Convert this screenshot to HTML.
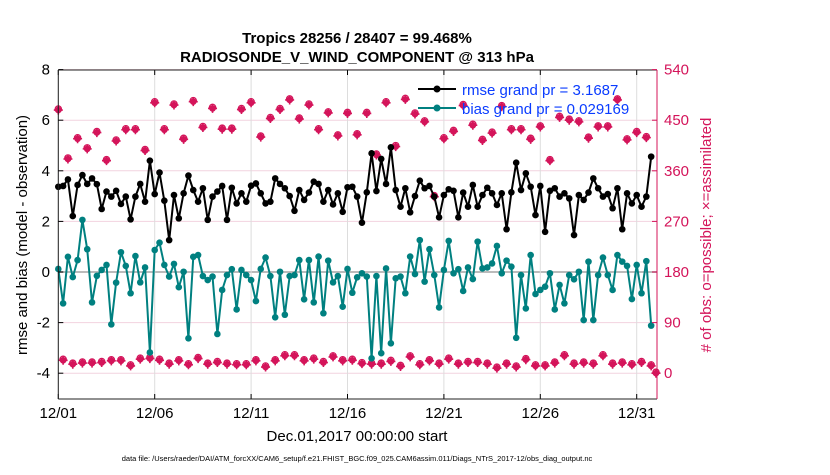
<!DOCTYPE html>
<html><head><meta charset="utf-8"><style>
body{margin:0;background:#fff;}
svg text{font-family:"Liberation Sans",sans-serif;}
</style></head><body>
<svg id="chart" width="830" height="470" xmlns="http://www.w3.org/2000/svg">
<rect width="830" height="470" fill="#fff"/>
<g id="grid"></g>
<g id="series"></g>
<g id="axes"></g>
<text x="357" y="43" text-anchor="middle" font-size="15" font-weight="bold">Tropics 28256 / 28407 = 99.468%</text>
<text x="357" y="62" text-anchor="middle" font-size="15" font-weight="bold">RADIOSONDE_V_WIND_COMPONENT @ 313 hPa</text>
<text transform="translate(27,235) rotate(-90)" text-anchor="middle" font-size="15">rmse and bias (model - observation)</text>
<text transform="translate(711,235) rotate(-90)" text-anchor="middle" font-size="15" fill="#d4145a"># of obs: o=possible; ×=assimilated</text>
<text x="357" y="441" text-anchor="middle" font-size="15">Dec.01,2017 00:00:00 start</text>
<text x="357" y="461" text-anchor="middle" font-size="7.5">data file: /Users/raeder/DAI/ATM_forcXX/CAM6_setup/f.e21.FHIST_BGC.f09_025.CAM6assim.011/Diags_NTrS_2017-12/obs_diag_output.nc</text>
<g>
<line x1="418" y1="89" x2="456" y2="89" stroke="#000" stroke-width="2"/>
<circle cx="437" cy="89" r="3.5" fill="#000"/>
<text x="462" y="95" font-size="15" fill="#0a3cff">rmse grand pr = 3.1687</text>
<line x1="418" y1="108" x2="456" y2="108" stroke="#008080" stroke-width="2"/>
<circle cx="437" cy="108" r="3.5" fill="#008080"/>
<text x="462" y="114" font-size="15" fill="#0a3cff">bias grand pr = 0.029169</text>
</g>
</svg>
<script>
const xTickLabels=["12/01","12/06","12/11","12/16","12/21","12/26","12/31"];
const xTickDays=[0,5,10,15,20,25,30];
const yTicksLeft=[8,6,4,2,0,-2,-4];
const yTicksRight=[540,450,360,270,180,90,0];
const rmse=[3.37,3.40,3.66,2.21,3.44,3.83,3.48,3.70,3.47,2.49,3.18,2.98,3.21,2.69,2.98,2.08,2.98,3.48,2.78,4.40,3.08,3.93,2.82,1.26,3.04,2.12,3.11,3.81,3.24,2.78,3.31,2.06,
2.98,3.18,3.40,2.06,3.33,2.71,3.11,2.78,3.41,3.50,3.11,2.71,2.78,3.70,3.48,3.31,3.00,2.42,3.24,2.85,3.14,3.57,3.48,2.78,3.24,2.67,3.11,2.38,3.35,3.37,2.98,
1.95,3.15,4.69,3.20,4.47,3.48,4.93,3.24,2.58,3.31,2.36,3.00,3.61,3.31,3.40,2.98,2.16,3.04,3.27,3.21,2.16,3.14,2.58,3.44,2.58,3.04,3.33,3.11,2.65,3.11,1.69,
3.15,4.32,3.24,3.90,3.37,2.25,3.40,1.59,3.21,3.31,2.98,3.11,2.91,1.46,3.04,2.85,3.14,3.70,3.31,2.98,3.08,2.52,3.31,1.69,3.11,2.71,3.04,2.58,2.98,4.56];
const bias=[0.12,-1.24,0.60,-0.20,0.47,2.06,0.90,-1.20,-0.15,0.08,0.28,-2.07,-0.42,0.78,0.24,-0.84,0.63,-0.41,0.18,-3.18,0.87,1.16,0.28,-0.18,0.32,-0.60,0.01,-2.62,0.60,0.67,-0.16,-0.32,
-0.18,-2.45,-0.71,-0.12,0.11,-1.48,0.08,-0.12,-0.32,-1.15,0.12,0.57,-0.16,-1.79,0.01,-1.69,-0.16,-0.12,0.47,-1.08,0.47,-1.20,0.61,-1.63,0.45,-0.41,-0.16,-1.37,0.12,-0.82,-0.21,
-0.05,-0.18,-3.41,-0.16,-3.21,0.14,-2.82,-0.25,-0.18,-0.84,0.61,-0.08,1.26,-0.38,0.90,-0.12,-1.40,0.08,1.23,-0.05,0.11,-0.75,0.18,-0.28,1.20,0.14,0.18,0.34,1.03,-0.05,0.45,
0.21,-2.60,-0.12,-1.44,0.67,-0.87,-0.71,-0.58,-0.05,-1.48,-0.51,-1.24,-0.12,-0.29,0.01,-1.90,0.41,-1.90,-0.12,0.57,-0.12,-0.71,0.67,0.41,0.24,-1.07,0.28,-0.84,0.43,-2.12];
const obsCounts=[468,23,381,16,417,18,399,18,428,19,378,22,413,22,433,13,433,25,396,26,481,23,433,16,477,22,416,15,483,26,437,16,
471,19,434,16,434,15,469,15,481,22,420,11,453,22,469,31,486,31,452,22,477,25,433,19,463,29,422,22,462,23,424,
17,462,16,388,16,481,21,403,12,487,29,461,15,447,22,314,16,417,25,430,16,476,19,441,19,414,16,427,9,474,16,
433,11,433,24,416,13,438,13,378,18,455,31,450,16,447,18,418,16,438,31,438,16,486,18,415,15,428,19,419,13,0];

const NS="http://www.w3.org/2000/svg";
const X0=58.3,PXDAY=19.28,XR=657,YT=70,YB=399;
const xs=k=>X0+k*0.25*PXDAY;
const yL=v=>272-v*25.3;
const yR=c=>yL(c/45-4);
function mk(tag,attrs,parent){const e=document.createElementNS(NS,tag);for(const a in attrs)e.setAttribute(a,attrs[a]);parent.appendChild(e);return e;}
const grid=document.getElementById('grid'),ser=document.getElementById('series'),ax=document.getElementById('axes');
yTicksLeft.forEach(v=>{const l=mk('line',{x1:X0,x2:XR,y1:yL(v),y2:yL(v),stroke:v===0?'#bbbbbb':'#f2d3df','stroke-width':v===0?2:1},grid);

});
xTickDays.forEach((d,i)=>{const x=X0+d*PXDAY;const l=mk('line',{x1:x,x2:x,y1:YT,y2:YB,stroke:'#dddddd','stroke-width':1},grid);


const t=mk('text',{x:x,y:418,'text-anchor':'middle','font-size':15},ax);t.textContent=xTickLabels[i];


mk('line',{x1:x,x2:x,y1:YB,y2:YB-5,stroke:'#000'},ax);mk('line',{x1:x,x2:x,y1:YT,y2:YT+5,stroke:'#000'},ax);});
// count markers
obsCounts.forEach((c,k)=>{const x=xs(k),y=yR(c);const g=mk('g',{},ser);


mk('circle',{cx:x,cy:y-1,r:3.2,fill:'none',stroke:'#d4145a','stroke-width':1.2},g);
mk('circle',{cx:x,cy:y,r:3.3,fill:'#d4145a'},g);
mk('path',{d:`M${x-4.5} ${y}H${x+4.5}M${x} ${y-4.5}V${y+4.5}`,stroke:'#d4145a','stroke-width':1.6},g);});
function series(arr,color,name){const p=arr.map((v,k)=>`${k?'L':'M'}${xs(k).toFixed(1)} ${yL(v).toFixed(1)}`).join('');
const path=mk('path',{d:p,fill:'none',stroke:color,'stroke-width':2,'stroke-linejoin':'round'},ser);


arr.forEach((v,k)=>{const c=mk('circle',{cx:xs(k),cy:yL(v),r:3.3,fill:color},ser);

});}
series(bias,'#008080','bias');
series(rmse,'#000000','rmse');
// axes
mk('line',{x1:X0,x2:XR,y1:YT,y2:YT,stroke:'#222'},ax);
mk('line',{x1:X0,x2:XR,y1:YB,y2:YB,stroke:'#222'},ax);
mk('line',{x1:X0,x2:X0,y1:YT,y2:YB,stroke:'#222'},ax);
mk('line',{x1:XR,x2:XR,y1:YT,y2:YB,stroke:'#d4145a'},ax);
yTicksLeft.forEach(v=>{const y=yL(v);mk('line',{x1:X0,x2:X0+5,y1:y,y2:y,stroke:'#000'},ax);
const t=mk('text',{x:50,y:y+5,'text-anchor':'end','font-size':15},ax);t.textContent=v;

});
yTicksRight.forEach(c=>{const y=yR(c);mk('line',{x1:XR-5,x2:XR,y1:y,y2:y,stroke:'#d4145a'},ax);
const t=mk('text',{x:664,y:y+5,'font-size':15,fill:'#d4145a'},ax);t.textContent=c;

});
</script>
</body></html>
